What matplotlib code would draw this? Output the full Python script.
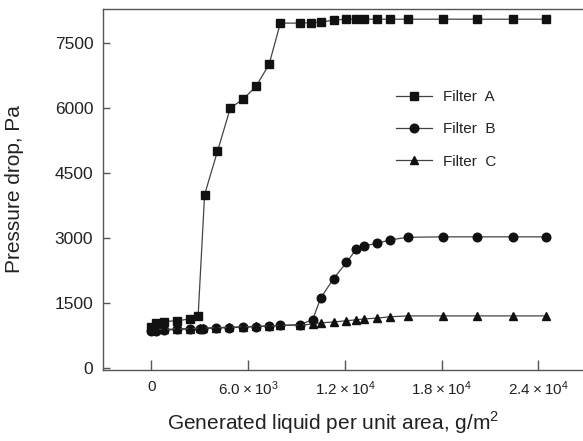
import matplotlib.pyplot as plt

plt.rcParams['font.family'] = ['Liberation Sans', 'DejaVu Sans']
plt.rcParams['mathtext.fontset'] = 'custom'
plt.rcParams['mathtext.rm'] = 'Liberation Sans'

# Generated liquid per unit area (g/m2) and pressure drop (Pa) for each filter
x_a = [0, 300, 800, 1600, 2400, 2900, 3300, 4100, 4900, 5700, 6500, 7300, 8000,
       9200, 9900, 10500, 11300, 12100, 12700, 13200, 14000, 14800, 15900,
       18100, 20200, 22400, 24500]
y_a = [960, 1040, 1080, 1100, 1140, 1210, 4000, 5000, 6000, 6200, 6500, 7000, 7950,
       7950, 7960, 7970, 8020, 8040, 8040, 8040, 8040, 8040, 8040,
       8040, 8040, 8040, 8040]

x_b = [0, 300, 800, 1600, 2400, 3000, 3200, 4000, 4800, 5700, 6500, 7300, 8000,
       9200, 10000, 10500, 11300, 12100, 12700, 13200, 14000, 14800, 15900,
       18100, 20200, 22400, 24500]
y_b = [860, 870, 880, 900, 910, 920, 920, 930, 940, 950, 960, 980, 990,
       1010, 1120, 1620, 2070, 2440, 2740, 2820, 2880, 2960, 3020,
       3030, 3030, 3030, 3030]

x_c = x_b
y_c = [900, 900, 900, 910, 920, 930, 930, 940, 950, 960, 970, 980, 990,
       1000, 1020, 1050, 1070, 1100, 1120, 1140, 1160, 1190, 1210,
       1210, 1210, 1210, 1210]

labels = ['Filter  A', 'Filter  B', 'Filter  C']
xticks = [0, 6000, 12000, 18000, 24000]
xtick_labels = ['0', r'$\mathregular{6.0\times10^{3}}$', r'$\mathregular{1.2\times10^{4}}$',
                r'$\mathregular{1.8\times10^{4}}$', r'$\mathregular{2.4\times10^{4}}$']
yticks = [0, 1500, 3000, 4500, 6000, 7500]

fig = plt.figure(figsize=(5.83, 4.41), dpi=100)
ax = fig.add_axes([0.1767, 0.161, 0.8233, 0.8186])

line_kw = dict(color='#444444', lw=0.9, markerfacecolor='#111111',
               markeredgecolor='#111111')
ax.plot(x_a, y_a, marker='s', ms=5.5, label=labels[0], **line_kw)
ax.plot(x_b, y_b, marker='o', ms=6.2, label=labels[1], **line_kw)
ax.plot(x_c, y_c, marker='^', ms=6.2, label=labels[2], **line_kw)

ax.set_xlim(-3000, 26770)
ax.set_ylim(-35, 8275)
ax.set_xticks(xticks)
ax.set_xticklabels(xtick_labels)
ax.set_yticks(yticks)

for side in ['left', 'bottom', 'top']:
    ax.spines[side].set_color('#555555')
    ax.spines[side].set_linewidth(1.0)
ax.spines['right'].set_visible(False)

ax.tick_params(axis='x', direction='in', length=7, width=1, color='#555555',
               labelsize=11, pad=7, labelcolor='#222222')
ax.tick_params(axis='y', direction='in', length=5, width=1, color='#555555',
               labelsize=12.5, pad=7, labelcolor='#222222')

ax.set_xlabel('Generated liquid per unit area, g/m$^2$', fontsize=15, color='#222222')
ax.set_ylabel('Pressure drop, Pa', fontsize=15, color='#222222')
ax.xaxis.set_label_coords(0.479, -0.108)
ax.yaxis.set_label_coords(-0.165, 0.5)

leg = ax.legend(loc='center left', bbox_to_anchor=(0.6787, 0.7068),
                bbox_transform=fig.transFigure, frameon=False, fontsize=11,
                borderpad=0, borderaxespad=0, handlelength=2.35,
                handletextpad=0.72, labelspacing=1.2)
for t in leg.get_texts():
    t.set_color('#222222')

fig.savefig('out.png', dpi=100)
